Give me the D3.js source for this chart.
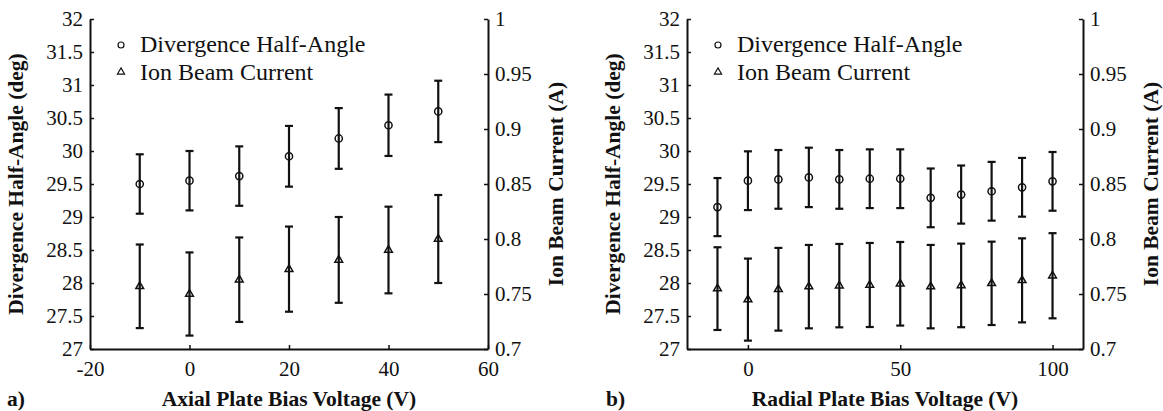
<!DOCTYPE html>
<html>
<head>
<meta charset="utf-8">
<script src="https://cdn.jsdelivr.net/npm/d3@7"></script>
<style>
  html, body { margin: 0; padding: 0; background: #fff; }
  svg { display: block; }
</style>
</head>
<body>
<svg id="chart" width="1163" height="411"></svg>
<script>
// ---- Data ----
const axialVoltage = [-10, 0, 10, 20, 30, 40, 50];
const axialAngle = [29.50, 29.55, 29.62, 29.92, 30.19, 30.39, 30.60];
const axialAngleErr = [0.45, 0.45, 0.45, 0.46, 0.46, 0.465, 0.465];
const axialCurrent = [0.757, 0.750, 0.763, 0.7726, 0.781, 0.790, 0.800];
const axialCurrentErr = [0.038, 0.0378, 0.0384, 0.0387, 0.039, 0.0394, 0.040];

const radialVoltage = [-10, 0, 10, 20, 30, 40, 50, 60, 70, 80, 90, 100];
const radialAngle = [29.15, 29.55, 29.57, 29.60, 29.57, 29.58, 29.58, 29.29, 29.34, 29.39, 29.45, 29.54];
const radialAngleErr = [0.44, 0.445, 0.445, 0.45, 0.445, 0.445, 0.445, 0.445, 0.44, 0.445, 0.445, 0.445];
const radialCurrent = [0.7549, 0.7449, 0.7543, 0.7567, 0.7576, 0.7582, 0.7593, 0.7567, 0.7578, 0.7597, 0.7624, 0.7666];
const radialCurrentErr = [0.0376, 0.0373, 0.0376, 0.0379, 0.0379, 0.0382, 0.038, 0.0379, 0.038, 0.0379, 0.0382, 0.0387];

const angleTicks = [27, 27.5, 28, 28.5, 29, 29.5, 30, 30.5, 31, 31.5, 32];
const currentTicks = [0.7, 0.75, 0.8, 0.85, 0.9, 0.95, 1];
const axialTicks = [-20, 0, 20, 40, 60];
const radialTicks = [0, 50, 100];

const legendLabels = ["Divergence Half-Angle", "Ion Beam Current"];
const yTitleLeft = "Divergence Half-Angle (deg)";
const yTitleRight = "Ion Beam Current (A)";

const FONT = '"Liberation Serif", "Times New Roman", serif';
const svg = d3.select("#chart");
const fmt = d => String(+(+d).toFixed(2));

function txt(sel, size, bold) {
  return sel.style("font-family", FONT).style("font-size", size + "px")
    .style("font-weight", bold ? "bold" : "normal").style("fill", "#111");
}

function panel(cfg) {
  const {left, right, top, bottom, xDomain, xTicks, xs, angle, angleErr, cur, curErr, xTitle, tag} = cfg;
  const x = d3.scaleLinear().domain(xDomain).range([left, right]);
  const yA = d3.scaleLinear().domain([27, 32]).range([bottom, top]);
  const yC = d3.scaleLinear().domain([0.7, 1]).range([bottom, top]);
  const g = svg.append("g");

  // axes
  const axL = g.append("g").attr("transform", `translate(${left},0)`)
    .call(d3.axisLeft(yA).tickValues(angleTicks).tickFormat(fmt).tickSizeInner(-4).tickSizeOuter(0).tickPadding(7));
  const axR = g.append("g").attr("transform", `translate(${right},0)`)
    .call(d3.axisRight(yC).tickValues(currentTicks).tickFormat(fmt).tickSizeInner(-4).tickSizeOuter(0).tickPadding(7));
  const axB = g.append("g").attr("transform", `translate(0,${bottom})`)
    .call(d3.axisBottom(x).tickValues(xTicks).tickFormat(fmt).tickSizeInner(-4).tickSizeOuter(0).tickPadding(12));
  [axL, axR, axB].forEach(a => {
    a.select(".domain").attr("stroke", "#111").attr("stroke-width", 2);
    a.selectAll(".tick line").attr("stroke", "#111").attr("stroke-width", 1.5);
    txt(a.selectAll("text"), 21, false);
  });

  // error bars + markers
  const cap = 4;
  function series(ys, errs, yScale, kind) {
    const sg = g.append("g");
    xs.forEach((v, i) => {
      const cx = x(v), y1 = yScale(ys[i] + errs[i]), y0 = yScale(ys[i] - errs[i]);
      sg.append("line").attr("x1", cx).attr("x2", cx).attr("y1", y1).attr("y2", y0)
        .attr("stroke", "#111").attr("stroke-width", 2.2);
      sg.append("line").attr("x1", cx - cap).attr("x2", cx + cap).attr("y1", y1).attr("y2", y1)
        .attr("stroke", "#111").attr("stroke-width", 2.2);
      sg.append("line").attr("x1", cx - cap).attr("x2", cx + cap).attr("y1", y0).attr("y2", y0)
        .attr("stroke", "#111").attr("stroke-width", 2.2);
      const cy = yScale(ys[i]);
      if (kind === "circle") {
        sg.append("circle").attr("cx", cx).attr("cy", cy).attr("r", 3.6)
          .attr("fill", "none").attr("stroke", "#111").attr("stroke-width", 1.5);
      } else {
        sg.append("path").attr("d", d3.symbol(d3.symbolTriangle, 26)())
          .attr("transform", `translate(${cx},${cy})`)
          .attr("fill", "none").attr("stroke", "#111").attr("stroke-width", 1.5);
      }
    });
  }
  series(angle, angleErr, yA, "circle");
  series(cur, curErr, yC, "triangle");

  // legend
  const lx = left + 31;
  g.append("circle").attr("cx", lx).attr("cy", 45).attr("r", 3)
    .attr("fill", "none").attr("stroke", "#111").attr("stroke-width", 1.2);
  g.append("path").attr("d", d3.symbol(d3.symbolTriangle, 22)())
    .attr("transform", `translate(${lx},${72})`)
    .attr("fill", "none").attr("stroke", "#111").attr("stroke-width", 1.2);
  txt(g.append("text").attr("x", left + 50).attr("y", 52).text(legendLabels[0]), 24, false);
  txt(g.append("text").attr("x", left + 50).attr("y", 80).text(legendLabels[1]), 24, false);

  // titles
  const midY = (top + bottom) / 2;
  txt(g.append("text").attr("transform", `translate(${left - 67},${midY}) rotate(-90)`)
    .attr("text-anchor", "middle").text(yTitleLeft), 21.5, true);
  txt(g.append("text").attr("transform", `translate(${right + 75},${midY}) rotate(-90)`)
    .attr("text-anchor", "middle").text(yTitleRight), 21.5, true);
  txt(g.append("text").attr("x", (left + right) / 2).attr("y", 406)
    .attr("text-anchor", "middle").text(xTitle), 21.5, true);
  txt(g.append("text").attr("x", tag.x).attr("y", 406).text(tag.t), 21.5, true);
}

panel({left: 90, right: 488, top: 19, bottom: 349, xDomain: [-20, 60], xTicks: axialTicks,
  xs: axialVoltage, angle: axialAngle, angleErr: axialAngleErr, cur: axialCurrent, curErr: axialCurrentErr,
  xTitle: "Axial Plate Bias Voltage (V)", tag: {x: 7, t: "a)"}});
panel({left: 687, right: 1083, top: 19, bottom: 349, xDomain: [-20, 110], xTicks: radialTicks,
  xs: radialVoltage, angle: radialAngle, angleErr: radialAngleErr, cur: radialCurrent, curErr: radialCurrentErr,
  xTitle: "Radial Plate Bias Voltage (V)", tag: {x: 606, t: "b)"}});
</script>
</body>
</html>
